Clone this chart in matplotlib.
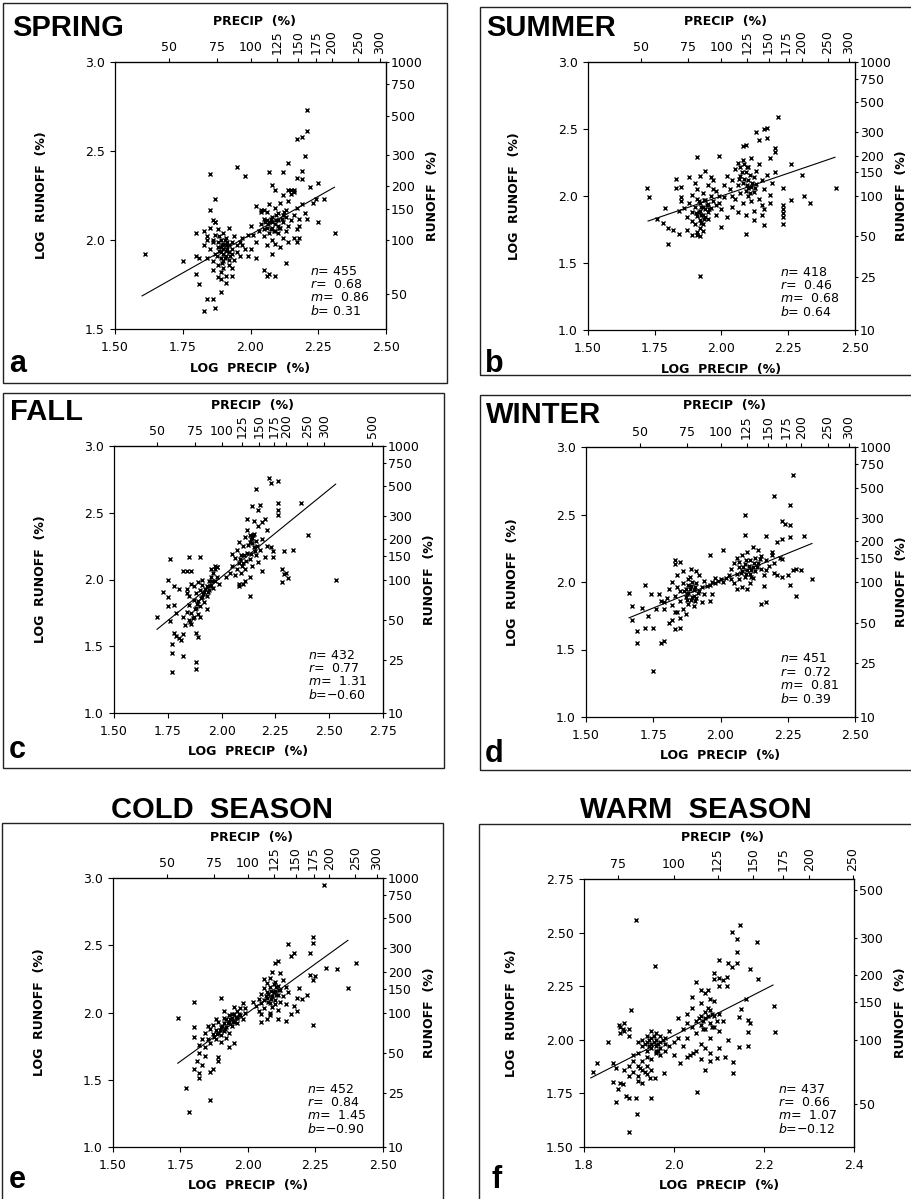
import matplotlib
matplotlib.use('Agg')
import matplotlib.pyplot as plt
import numpy as np
from matplotlib.patches import Rectangle

plt.rcParams['font.family'] = ['DejaVu Sans']
plt.rcParams['mathtext.fontset'] = 'dejavusans'

W, H = 912, 1199
fig = plt.figure(figsize=(W / 100, H / 100), dpi=100)

# ---------------- data ----------------
titles = ['SPRING', 'SUMMER', 'FALL', 'WINTER', 'COLD  SEASON', 'WARM  SEASON']
letters = ['a', 'b', 'c', 'd', 'e', 'f']

n_vals = [455, 418, 432, 451, 452, 437]
r_vals = [0.68, 0.46, 0.77, 0.72, 0.84, 0.66]
m_vals = [0.86, 0.68, 1.31, 0.81, 1.45, 1.07]
b_vals = [0.31, 0.64, -0.60, 0.39, -0.90, -0.12]
line_x = [(1.60, 2.31), (1.725, 2.425), (1.70, 2.53), (1.66, 2.34), (1.74, 2.37), (1.815, 2.22)]

x_limits = [(1.5, 2.5), (1.5, 2.5), (1.5, 2.75), (1.5, 2.5), (1.5, 2.5), (1.8, 2.4)]
y_limits = [(1.5, 3.0), (1.0, 3.0), (1.0, 3.0), (1.0, 3.0), (1.0, 3.0), (1.5, 2.75)]
x_ticks = [['1.50', '1.75', '2.00', '2.25', '2.50'],
           ['1.50', '1.75', '2.00', '2.25', '2.50'],
           ['1.50', '1.75', '2.00', '2.25', '2.50', '2.75'],
           ['1.50', '1.75', '2.00', '2.25', '2.50'],
           ['1.50', '1.75', '2.00', '2.25', '2.50'],
           ['1.8', '2.0', '2.2', '2.4']]
y_ticks = [['1.5', '2.0', '2.5', '3.0'],
           ['1.0', '1.5', '2.0', '2.5', '3.0'],
           ['1.0', '1.5', '2.0', '2.5', '3.0'],
           ['1.0', '1.5', '2.0', '2.5', '3.0'],
           ['1.0', '1.5', '2.0', '2.5', '3.0'],
           ['1.50', '1.75', '2.00', '2.25', '2.50', '2.75']]
precip_ticks = [[50, 75, 100, 125, 150, 175, 200, 250, 300],
                [50, 75, 100, 125, 150, 175, 200, 250, 300],
                [50, 75, 100, 125, 150, 175, 200, 250, 300, 500],
                [50, 75, 100, 125, 150, 175, 200, 250, 300],
                [50, 75, 100, 125, 150, 175, 200, 250, 300],
                [75, 100, 125, 150, 175, 200, 250]]
runoff_ticks = [[50, 100, 150, 200, 300, 500, 750, 1000],
                [10, 25, 50, 100, 150, 200, 300, 500, 750, 1000],
                [10, 25, 50, 100, 150, 200, 300, 500, 750, 1000],
                [10, 25, 50, 100, 150, 200, 300, 500, 750, 1000],
                [10, 25, 50, 100, 150, 200, 300, 500, 750, 1000],
                [50, 100, 150, 200, 300, 500]]

spring_pts = [
    (1.61, 1.92), (2.21, 2.73), (2.21, 2.61), (2.17, 2.57), (2.19, 2.58), (2.20, 2.47), (2.14, 2.43),
    (1.95, 2.41), (1.85, 2.37), (2.07, 2.38), (2.12, 2.38), (1.98, 2.36), (2.19, 2.39), (2.17, 2.35),
    (2.19, 2.34), (2.25, 2.32), (2.22, 2.30), (2.14, 2.28), (2.15, 2.28), (2.16, 2.27), (2.08, 2.31),
    (2.09, 2.28), (1.87, 2.23), (1.85, 2.17), (2.27, 2.23), (2.24, 2.23), (2.23, 2.21), (2.31, 2.04),
    (2.21, 2.12), (2.25, 2.10), (2.18, 2.01), (2.16, 2.01), (1.75, 1.88), (1.80, 1.91), (1.81, 1.90),
    (1.80, 2.04), (1.83, 2.05), (1.84, 2.00), (1.86, 2.00), (1.86, 2.11), (1.87, 2.10), (1.80, 1.81),
    (1.81, 1.75), (1.84, 1.67), (1.86, 1.67), (1.83, 1.60), (1.87, 1.62), (1.89, 1.71), (1.91, 1.76),
    (1.89, 1.78), (1.93, 1.80), (1.99, 1.91), (2.02, 1.90), (2.05, 1.83), (2.06, 1.80), (2.07, 1.81),
    (2.09, 1.80), (2.08, 1.92), (2.13, 1.87), (1.97, 1.97), (2.00, 1.95), (2.14, 1.99), (2.17, 1.99),
    (2.02, 2.19), (2.05, 2.17), (2.04, 2.17),
    (1.84, 1.90), (1.85, 1.95), (1.86, 1.88), (1.86, 1.99), (1.87, 1.92), (1.87, 2.03), (1.88, 1.86),
    (1.88, 1.96), (1.88, 2.06), (1.89, 1.90), (1.89, 1.93), (1.89, 2.00), (1.90, 1.84), (1.90, 1.88),
    (1.90, 1.95), (1.90, 1.98), (1.90, 2.04), (1.91, 1.91), (1.91, 1.94), (1.91, 2.01), (1.92, 1.86),
    (1.92, 1.89), (1.92, 1.97), (1.92, 2.07), (1.93, 1.92), (1.93, 1.99), (1.93, 1.95), (1.94, 1.89),
    (1.94, 2.02), (1.95, 1.93), (1.95, 1.97), (1.96, 1.99), (1.96, 1.91), (1.97, 2.01), (1.88, 1.79),
    (1.89, 1.82), (1.91, 1.80), (1.86, 1.83), (1.85, 2.07), (1.87, 2.10), (1.83, 1.97), (1.84, 2.02),
    (1.98, 1.95), (1.99, 2.03), (1.93, 1.84), (1.89, 1.96), (1.90, 1.92), (1.91, 1.97), (1.92, 1.93),
    (1.88, 1.99),
    (1.885, 1.94), (1.895, 1.97), (1.905, 1.90), (1.915, 1.95), (1.895, 1.87), (1.905, 2.00),
    (1.915, 1.99), (1.925, 1.91), (1.875, 1.91), (1.885, 2.02),
    (2.03, 2.05), (2.04, 2.09), (2.05, 2.02), (2.05, 2.12), (2.06, 2.07), (2.06, 2.16), (2.07, 2.04),
    (2.07, 2.10), (2.08, 2.00), (2.08, 2.13), (2.08, 2.07), (2.09, 2.18), (2.09, 2.09), (2.10, 2.04),
    (2.10, 2.11), (2.10, 2.15), (2.11, 2.07), (2.11, 2.21), (2.12, 2.10), (2.12, 2.01), (2.13, 2.13),
    (2.13, 2.17), (2.14, 2.08), (2.14, 2.22), (2.15, 2.11), (2.15, 2.26), (2.16, 2.14), (2.17, 2.06),
    (2.17, 2.18), (2.18, 2.12), (2.19, 2.20), (2.20, 2.15), (2.02, 1.99), (2.04, 2.16), (2.06, 1.97),
    (2.09, 1.98), (2.11, 1.96), (2.07, 2.20), (2.12, 2.25), (2.16, 2.28), (2.01, 2.03), (2.00, 2.08),
    (2.05, 2.06), (2.08, 2.10), (2.10, 2.08), (2.09, 2.05), (2.13, 2.05), (2.18, 2.08), (2.12, 2.14),
    (2.06, 2.11),
    (2.065, 2.09), (2.075, 2.12), (2.085, 2.05), (2.095, 2.11), (2.105, 2.07), (2.075, 2.06),
    (2.095, 2.14), (2.115, 2.12), (2.125, 2.16), (2.055, 2.10)]

summer_pts = [
    (1.72, 2.06), (1.73, 1.99), (1.80, 1.64), (1.79, 1.91), (1.91, 2.29), (1.99, 2.30), (2.21, 2.59),
    (2.16, 2.50), (2.17, 2.51), (2.13, 2.48), (2.14, 2.42), (2.17, 2.43), (2.09, 2.38), (2.08, 2.37),
    (2.20, 2.36), (2.20, 2.33), (2.18, 2.28), (2.26, 2.24), (2.30, 2.16), (2.20, 2.18), (2.23, 2.06),
    (2.43, 2.06), (2.26, 1.97), (2.31, 2.00), (2.33, 1.95), (2.23, 1.93), (2.23, 1.90), (2.23, 1.87),
    (2.23, 1.84), (2.23, 1.79), (2.16, 1.78), (2.09, 1.72), (2.00, 1.77), (1.82, 1.75), (1.84, 1.72),
    (1.80, 1.76), (1.87, 1.75), (1.89, 1.71), (1.91, 1.71), (1.92, 1.70), (1.83, 2.13), (1.88, 2.14),
    (1.94, 2.19), (1.83, 2.06), (1.85, 2.07), (1.85, 1.99), (1.92, 1.40), (1.99, 1.95), (2.01, 2.08),
    (2.00, 1.90), (1.98, 1.86), (2.02, 1.84), (2.04, 2.00), (1.97, 2.05), (2.18, 2.01), (2.15, 1.86),
    (2.12, 1.82), (1.78, 1.80), (1.76, 1.83),
    (1.88, 1.95), (1.89, 1.88), (1.89, 2.01), (1.90, 1.79), (1.90, 1.92), (1.91, 1.85), (1.91, 1.98),
    (1.91, 2.05), (1.92, 1.76), (1.92, 1.82), (1.92, 1.89), (1.92, 1.95), (1.93, 1.79), (1.93, 1.86),
    (1.93, 1.92), (1.93, 2.02), (1.94, 1.84), (1.94, 1.90), (1.94, 1.97), (1.95, 1.88), (1.95, 1.94),
    (1.95, 2.08), (1.96, 1.91), (1.96, 2.00), (1.97, 1.96), (1.97, 2.12), (1.98, 2.04), (1.98, 1.93),
    (1.99, 2.00), (1.86, 1.91), (1.87, 1.84), (1.85, 1.96), (1.84, 1.89), (1.90, 2.10), (1.92, 2.15),
    (1.96, 2.14), (1.91, 1.73), (1.93, 1.74), (1.89, 1.81), (1.95, 1.83),
    (1.915, 1.88), (1.925, 1.92), (1.935, 1.83), (1.925, 1.80), (1.945, 1.93), (1.915, 1.96),
    (1.905, 1.87), (1.935, 1.97), (1.955, 1.90), (1.925, 1.86),
    (2.03, 2.05), (2.04, 2.12), (2.05, 1.98), (2.05, 2.20), (2.06, 2.08), (2.06, 2.25), (2.07, 2.02),
    (2.07, 2.15), (2.08, 1.95), (2.08, 2.10), (2.08, 2.27), (2.09, 2.04), (2.09, 2.18), (2.10, 2.00),
    (2.10, 2.12), (2.10, 2.22), (2.11, 1.96), (2.11, 2.07), (2.11, 2.28), (2.12, 2.14), (2.12, 2.03),
    (2.13, 2.19), (2.13, 2.09), (2.14, 2.24), (2.14, 1.98), (2.15, 2.12), (2.15, 1.93), (2.16, 2.05),
    (2.16, 1.90), (2.17, 2.16), (2.02, 2.15), (2.01, 1.99), (2.04, 1.92), (2.06, 1.88), (2.09, 1.86),
    (2.12, 1.89), (2.18, 1.95), (2.19, 2.10), (2.07, 2.22), (2.10, 2.06),
    (2.085, 2.13), (2.095, 2.08), (2.105, 2.16), (2.115, 2.10), (2.075, 2.18), (2.095, 2.22),
    (2.105, 2.02), (2.125, 2.06), (2.085, 2.24), (2.065, 2.13)]

fall_pts = [
    (1.70, 1.72), (1.76, 2.15), (1.85, 2.17), (1.90, 2.17), (2.22, 2.76), (2.26, 2.74), (2.23, 2.72),
    (2.16, 2.68), (2.14, 2.55), (2.18, 2.56), (2.17, 2.52), (2.26, 2.57), (2.26, 2.52), (2.26, 2.48),
    (2.37, 2.57), (2.40, 2.33), (2.53, 2.00), (2.29, 2.21), (2.33, 2.22), (2.28, 2.08), (2.29, 2.04),
    (2.30, 2.05), (2.28, 1.98), (2.31, 2.01), (2.23, 2.24), (2.24, 2.21), (2.24, 2.17), (2.13, 1.88),
    (2.08, 1.95), (2.10, 1.97), (1.75, 2.00), (1.78, 1.95), (1.80, 1.93), (1.73, 1.91), (1.75, 1.87),
    (1.78, 1.81), (1.75, 1.80), (1.84, 1.90), (1.78, 1.60), (1.80, 1.56), (1.77, 1.52), (1.82, 1.59),
    (1.88, 1.60), (1.89, 1.57), (1.77, 1.45), (1.82, 1.43), (1.88, 1.38), (1.88, 1.33), (1.77, 1.31),
    (1.82, 2.06), (1.84, 2.06), (1.86, 2.06), (1.86, 1.97), (1.97, 2.10), (1.98, 2.09), (1.81, 1.55),
    (1.79, 1.58), (1.76, 1.69), (1.79, 1.75), (2.20, 2.45), (2.21, 2.37), (2.19, 2.43),
    (1.82, 1.72), (1.83, 1.66), (1.84, 1.76), (1.85, 1.70), (1.85, 1.81), (1.86, 1.67), (1.86, 1.75),
    (1.87, 1.85), (1.87, 1.72), (1.88, 1.79), (1.88, 1.90), (1.89, 1.74), (1.89, 1.84), (1.90, 1.80),
    (1.90, 1.92), (1.91, 1.87), (1.91, 1.96), (1.92, 1.83), (1.92, 1.91), (1.93, 1.95), (1.93, 1.88),
    (1.94, 1.99), (1.94, 1.92), (1.95, 1.96), (1.95, 2.02), (1.96, 1.94), (1.96, 2.05), (1.97, 1.99),
    (1.97, 2.08), (1.98, 2.02), (1.99, 1.97), (1.90, 1.72), (1.87, 1.95), (1.85, 1.88), (1.84, 1.93),
    (1.93, 1.78), (1.91, 2.00), (1.89, 1.98), (1.95, 2.08), (1.98, 2.09),
    (1.905, 1.86), (1.915, 1.89), (1.925, 1.93), (1.935, 1.91), (1.945, 1.95), (1.955, 1.99),
    (1.885, 1.82), (1.875, 1.78), (1.865, 1.71), (1.855, 1.68),
    (2.04, 2.05), (2.05, 2.10), (2.06, 2.03), (2.06, 2.16), (2.07, 2.08), (2.07, 2.22), (2.08, 2.12),
    (2.08, 2.28), (2.09, 2.05), (2.09, 2.18), (2.10, 2.25), (2.10, 2.12), (2.11, 2.32), (2.11, 2.08),
    (2.12, 2.20), (2.12, 2.37), (2.13, 2.15), (2.13, 2.28), (2.14, 2.31), (2.14, 2.10), (2.15, 2.24),
    (2.15, 2.34), (2.16, 2.18), (2.16, 2.29), (2.17, 2.13), (2.17, 2.40), (2.18, 2.22), (2.19, 2.06),
    (2.19, 2.30), (2.20, 2.17), (2.13, 2.02), (2.11, 1.99), (2.08, 1.97), (2.15, 2.44), (2.12, 2.45),
    (2.21, 2.25), (2.14, 2.27), (2.13, 2.33), (2.02, 2.02), (2.05, 2.19),
    (2.135, 2.30), (2.145, 2.33), (2.125, 2.26), (2.105, 2.18), (2.115, 2.14), (2.095, 2.10),
    (2.155, 2.21), (2.135, 2.19), (2.085, 2.15), (2.165, 2.25)]

winter_pts = [
    (2.27, 2.79), (2.20, 2.64), (2.26, 2.57), (2.09, 2.50), (2.23, 2.45), (2.24, 2.43), (2.26, 2.42),
    (2.09, 2.35), (2.17, 2.34), (2.21, 2.30), (2.23, 2.32), (2.26, 2.33), (2.31, 2.34), (1.96, 2.20),
    (2.01, 2.24), (2.34, 2.02), (2.28, 1.90), (2.28, 2.10), (2.30, 2.09), (2.27, 2.09), (2.26, 1.98),
    (2.23, 2.04), (2.15, 1.84), (2.17, 1.85), (1.66, 1.92), (1.67, 1.82), (1.67, 1.72), (1.69, 1.64),
    (1.72, 1.66), (1.75, 1.66), (1.69, 1.55), (1.78, 1.55), (1.79, 1.56), (1.75, 1.34), (1.72, 1.98),
    (1.74, 1.91), (1.77, 1.91), (1.71, 1.81), (1.79, 1.85), (1.83, 2.16), (1.85, 2.15), (1.84, 1.78),
    (1.85, 1.66), (1.83, 1.65), (1.81, 1.70), (1.82, 1.72), (1.97, 1.91), (1.96, 1.86), (2.19, 2.22),
    (2.23, 2.17), (2.20, 2.07), (2.25, 2.05), (1.73, 1.75), (1.76, 1.80),
    (1.80, 1.88), (1.81, 1.95), (1.82, 1.83), (1.82, 2.00), (1.83, 1.90), (1.83, 1.78), (1.84, 1.96),
    (1.84, 2.05), (1.85, 1.86), (1.85, 1.93), (1.86, 1.80), (1.86, 1.99), (1.86, 2.08), (1.87, 1.89),
    (1.87, 1.95), (1.88, 1.84), (1.88, 1.92), (1.88, 2.02), (1.89, 1.87), (1.89, 1.97), (1.89, 2.10),
    (1.90, 1.90), (1.90, 1.94), (1.90, 1.82), (1.91, 1.99), (1.91, 1.88), (1.92, 1.93), (1.92, 2.05),
    (1.93, 1.85), (1.93, 1.96), (1.94, 2.01), (1.94, 1.91), (1.95, 1.97), (1.87, 1.76), (1.85, 1.73),
    (1.83, 2.13), (1.79, 1.80), (1.78, 1.86), (1.91, 2.08), (1.88, 1.98),
    (1.875, 1.91), (1.885, 1.95), (1.895, 1.89), (1.905, 1.96), (1.865, 1.93), (1.895, 2.00),
    (1.915, 1.92), (1.875, 1.87), (1.905, 1.86), (1.885, 2.04),
    (1.96, 1.98), (1.97, 2.00), (1.98, 1.99), (1.99, 2.01), (2.00, 2.02), (2.01, 2.00), (2.02, 2.03),
    (1.98, 2.03),
    (2.03, 2.05), (2.04, 2.10), (2.05, 1.99), (2.05, 2.14), (2.06, 2.06), (2.06, 2.18), (2.07, 2.02),
    (2.07, 2.11), (2.08, 1.96), (2.08, 2.08), (2.08, 2.20), (2.09, 2.04), (2.09, 2.13), (2.10, 2.09),
    (2.10, 2.22), (2.11, 1.99), (2.11, 2.06), (2.11, 2.16), (2.12, 2.11), (2.12, 2.03), (2.13, 2.18),
    (2.13, 2.08), (2.14, 2.14), (2.14, 2.24), (2.15, 2.10), (2.15, 2.19), (2.16, 2.05), (2.17, 2.16),
    (2.18, 2.12), (2.19, 2.20), (2.06, 1.95), (2.10, 1.95), (2.04, 2.02), (2.07, 2.15), (2.12, 2.26),
    (2.17, 2.09), (2.20, 2.14), (2.16, 1.97), (2.21, 2.05), (2.22, 2.18),
    (2.085, 2.11), (2.095, 2.06), (2.105, 2.12), (2.115, 2.09), (2.125, 2.14), (2.135, 2.11),
    (2.075, 2.07), (2.145, 2.17), (2.095, 2.16), (2.115, 2.04)]

cold_pts = [
    (1.74, 1.96), (1.80, 2.08), (1.77, 1.44), (1.78, 1.26), (1.86, 1.35), (2.24, 2.56), (2.24, 2.52),
    (2.15, 2.51), (2.17, 2.44), (2.16, 2.42), (2.23, 2.44), (2.29, 2.33), (2.33, 2.32), (2.40, 2.37),
    (2.37, 2.18), (2.24, 1.91), (2.18, 2.01), (2.16, 1.99), (2.14, 1.94), (2.18, 2.11), (2.20, 2.10),
    (2.22, 2.13), (2.23, 2.28), (2.25, 2.27), (2.24, 2.24), (1.91, 2.01), (1.98, 2.07), (1.99, 2.03),
    (1.90, 2.11), (1.80, 1.82), (1.80, 1.89), (1.80, 1.58), (1.82, 1.51), (1.82, 1.55), (1.86, 1.56),
    (1.87, 1.58), (1.89, 1.64), (1.89, 1.67), (1.93, 1.74), (1.95, 1.77), (1.83, 1.61), (1.81, 1.64),
    (1.82, 1.70), (1.84, 1.68), (2.10, 2.06), (2.08, 1.98), (2.07, 1.95), (2.11, 1.95), (2.10, 2.37),
    (2.11, 2.38), (2.28, 2.95), (2.05, 1.93), (2.17, 2.05), (2.19, 2.18),
    (1.82, 1.76), (1.83, 1.80), (1.84, 1.74), (1.84, 1.85), (1.85, 1.80), (1.86, 1.88), (1.86, 1.77),
    (1.87, 1.84), (1.87, 1.91), (1.88, 1.80), (1.88, 1.87), (1.89, 1.85), (1.89, 1.93), (1.90, 1.89),
    (1.90, 1.83), (1.91, 1.92), (1.91, 1.86), (1.92, 1.95), (1.92, 1.89), (1.93, 1.93), (1.93, 1.98),
    (1.94, 1.90), (1.94, 1.96), (1.95, 1.99), (1.95, 1.93), (1.96, 2.01), (1.96, 1.96), (1.97, 1.98),
    (1.97, 2.03), (1.98, 1.95), (1.99, 2.00), (1.90, 1.78), (1.88, 1.95), (1.85, 1.90), (1.93, 1.85),
    (1.95, 2.04), (1.91, 1.96), (1.94, 1.99), (1.96, 1.92), (1.92, 1.81),
    (1.905, 1.90), (1.915, 1.88), (1.925, 1.92), (1.935, 1.95), (1.945, 1.94), (1.955, 1.97),
    (1.895, 1.87), (1.885, 1.84), (1.965, 1.99), (1.875, 1.82),
    (2.03, 2.05), (2.04, 2.10), (2.04, 2.01), (2.05, 2.14), (2.05, 2.07), (2.06, 2.18), (2.06, 2.03),
    (2.07, 2.11), (2.07, 2.22), (2.07, 2.15), (2.08, 2.07), (2.08, 2.19), (2.08, 2.26), (2.09, 2.12),
    (2.09, 2.04), (2.10, 2.16), (2.10, 2.23), (2.10, 2.09), (2.11, 2.13), (2.11, 2.20), (2.12, 2.17),
    (2.12, 2.08), (2.13, 2.24), (2.13, 2.12), (2.14, 2.19), (2.06, 2.09), (2.09, 2.30), (2.12, 2.29),
    (2.02, 2.08), (2.05, 1.99), (2.11, 2.02), (2.15, 2.15), (2.14, 2.06), (2.06, 2.25), (2.08, 2.00),
    (2.065, 2.12), (2.075, 2.14), (2.085, 2.16), (2.095, 2.15), (2.105, 2.19), (2.085, 2.10),
    (2.115, 2.17), (2.075, 2.08), (2.095, 2.21), (2.105, 2.13)]

warm_pts = [
    (1.915, 2.56), (2.147, 2.535), (2.13, 2.505), (2.14, 2.47), (2.184, 2.455), (2.14, 2.41),
    (2.10, 2.37), (2.12, 2.36), (2.14, 2.36), (2.13, 2.34), (1.958, 2.345), (2.17, 2.33),
    (2.186, 2.283), (2.088, 2.31), (2.09, 2.285), (2.10, 2.29), (2.11, 2.28), (2.117, 2.295),
    (2.05, 2.27), (2.075, 2.23), (2.068, 2.22), (2.10, 2.25), (2.118, 2.25), (2.223, 2.156),
    (2.225, 2.035), (2.165, 2.093), (2.169, 2.08), (2.165, 2.035), (2.145, 2.105), (2.15, 2.145),
    (2.16, 2.19), (2.165, 1.97), (2.145, 1.965), (2.132, 1.895), (2.132, 1.845), (2.113, 1.92),
    (2.095, 1.913), (2.08, 1.90), (2.07, 1.86), (2.052, 1.755), (1.904, 2.141), (1.878, 2.07),
    (1.887, 2.05), (1.854, 1.99), (1.828, 1.89), (1.82, 1.85), (1.865, 1.89), (1.872, 1.87),
    (1.865, 1.805), (1.88, 1.80), (1.887, 1.795), (1.876, 1.77), (1.893, 1.74), (1.90, 1.73),
    (1.872, 1.71), (1.915, 1.73), (1.917, 1.656), (1.949, 1.73), (1.978, 1.843), (1.946, 1.82),
    (1.957, 1.82), (2.013, 1.89), (2.028, 1.92), (2.035, 1.93), (2.042, 1.94), (1.90, 1.57),
    (2.12, 2.00), (2.10, 1.96), (2.08, 1.94), (2.06, 1.91), (2.02, 1.97), (2.00, 1.93),
    (1.93, 1.97), (1.93, 2.00), (1.94, 1.95), (1.94, 1.99), (1.94, 2.02), (1.95, 1.96), (1.95, 1.98),
    (1.95, 2.01), (1.96, 1.94), (1.96, 1.97), (1.96, 2.00), (1.96, 2.03), (1.97, 1.96), (1.97, 1.99),
    (1.97, 2.02), (1.98, 1.98), (1.98, 2.01), (1.99, 1.97), (1.99, 2.04), (2.00, 1.99), (1.92, 1.94),
    (1.92, 1.99), (1.95, 2.04), (1.97, 1.93), (2.01, 2.01), (1.94, 1.92), (1.96, 1.95), (1.98, 1.95),
    (1.945, 1.97), (1.955, 1.99), (1.965, 1.98), (1.955, 2.02), (1.975, 2.00), (1.945, 2.00),
    (1.965, 1.95), (1.935, 1.98), (1.925, 1.87), (1.935, 1.85),
    (1.90, 1.88), (1.91, 1.85), (1.91, 1.90), (1.92, 1.83), (1.92, 1.88), (1.93, 1.86), (1.93, 1.90),
    (1.94, 1.84), (1.94, 1.88), (1.95, 1.86), (1.90, 1.83), (1.89, 1.86), (1.92, 1.81), (1.95, 1.91),
    (1.91, 1.93), (1.93, 1.80),
    (1.88, 2.06), (1.89, 2.04), (1.89, 2.08), (1.90, 2.02), (1.90, 2.05), (1.88, 2.03),
    (2.02, 2.05), (2.03, 2.08), (2.03, 2.12), (2.04, 2.06), (2.04, 2.15), (2.05, 2.09), (2.05, 2.03),
    (2.06, 2.11), (2.06, 2.07), (2.06, 2.17), (2.07, 2.10), (2.07, 2.13), (2.07, 2.05), (2.08, 2.08),
    (2.08, 2.14), (2.08, 2.01), (2.09, 2.11), (2.09, 2.06), (2.09, 2.18), (2.10, 2.12), (2.10, 2.04),
    (2.04, 2.20), (2.06, 1.98), (2.07, 1.96), (2.05, 1.95), (2.11, 2.09), (2.08, 2.19), (2.03, 2.01),
    (2.01, 2.10), (2.06, 2.23),
    (2.065, 2.09), (2.075, 2.11), (2.085, 2.12), (2.055, 2.10), (2.085, 2.06), (2.095, 2.09),
    (2.075, 2.15), (2.065, 2.05)]

all_pts = [spring_pts, summer_pts, fall_pts, winter_pts, cold_pts, warm_pts]

# ---------------- layout (pixels) ----------------
axes_px = [(115, 62, 386, 329), (588, 62, 855, 330), (114, 446, 383, 713),
           (586, 447, 855, 717), (113, 878, 383, 1147), (584, 879, 854, 1147)]
frames_px = [(3, 3, 447, 383), (480, 7, 914, 375), (3, 393, 444, 768),
             (480, 395, 914, 770), (2, 823, 443, 1202), (479, 824, 914, 1202)]
title_px = [(12, 36, 'left'), (486, 36, 'left'), (10, 420, 'left'), (486, 423, 'left'),
            (222, 818, 'center'), (696, 818, 'center')]
letter_px = [(9, 372), (485, 372), (9, 758), (485, 762), (9, 1188), (492, 1188)]


def fx(x):
    return x / W


def fy(y):
    return 1 - y / H


bold_lbl = dict(fontsize=9, fontweight='bold', ha='center', va='center', family='DejaVu Sans')

for i in range(6):
    l, t, r, b = axes_px[i]
    ax = fig.add_axes([fx(l), fy(b), (r - l) / W, (b - t) / H])
    pts = np.array(all_pts[i])
    ax.plot(pts[:, 0], pts[:, 1], 'x', ms=3.2, mew=1.0, color='black')
    x0, x1 = line_x[i]
    lx = np.array([x0, x1])
    ax.plot(lx, m_vals[i] * lx + b_vals[i], color='black', lw=0.8)
    ax.set_xlim(*x_limits[i])
    ax.set_ylim(*y_limits[i])
    ax.set_xticks([float(s) for s in x_ticks[i]], labels=x_ticks[i])
    ax.set_yticks([float(s) for s in y_ticks[i]], labels=y_ticks[i])
    ax.tick_params(axis='x', direction='out', length=3.5, width=0.8, pad=5, labelsize=9)
    ax.tick_params(axis='y', direction='out', length=3.5, width=0.8, pad=4, labelsize=9)
    for s in ax.spines.values():
        s.set_linewidth(0.9)

    top = ax.secondary_xaxis('top')
    pv = precip_ticks[i]
    top.set_ticks(np.log10(pv), labels=[str(v) for v in pv])
    top.tick_params(direction='out', length=3, width=0.8, pad=2.5, labelsize=9)
    for lab, v in zip(top.get_xticklabels(), pv):
        if v >= 125:
            lab.set_rotation(90)

    right = ax.secondary_yaxis('right')
    rv = runoff_ticks[i]
    right.set_ticks(np.log10(rv), labels=[str(v) for v in rv])
    right.tick_params(direction='out', length=2.5, width=0.8, pad=1, labelsize=9)

    # stats text
    bv = b_vals[i]
    btxt = f"$b$= {bv:.2f}" if bv >= 0 else f"$b$=\u2212{abs(bv):.2f}"
    stats = [f"$n$= {n_vals[i]}", f"$r$=  {r_vals[i]:.2f}", f"$m$=  {m_vals[i]:.2f}", btxt]
    for k, s in enumerate(stats):
        ax.text(0.72, 0.215 - k * 0.049, s, transform=ax.transAxes, fontsize=9,
                ha='left', va='center')

    # axis labels
    cx, cy = (l + r) / 2, (t + b) / 2
    fig.text(fx(l - 73), fy(cy), 'LOG  RUNOFF  (%)', rotation=90, **bold_lbl)
    fig.text(fx(cx), fy(b + 39), 'LOG  PRECIP  (%)', **bold_lbl)
    fig.text(fx(cx + 4), fy(t - 41), 'PRECIP  (%)', **bold_lbl)
    fig.text(fx(r + 47), fy(cy), 'RUNOFF  (%)', rotation=90, **bold_lbl)

    # panel frame
    x0p, y0p, x1p, y1p = frames_px[i]
    fig.add_artist(Rectangle((fx(x0p), fy(y1p)), (x1p - x0p) / W, (y1p - y0p) / H,
                             transform=fig.transFigure, fill=False, lw=1.0,
                             ec='#222222'))

    tx, ty, tha = title_px[i]
    fig.text(fx(tx), fy(ty), titles[i], fontsize=21, fontweight='bold', ha=tha,
             va='baseline', family=['Liberation Sans', 'DejaVu Sans'])
    lx_, ly_ = letter_px[i]
    fig.text(fx(lx_), fy(ly_), letters[i], fontsize=22, fontweight='bold', ha='left',
             va='baseline', family=['Liberation Sans', 'DejaVu Sans'])

fig.savefig('out.png', dpi=100)
